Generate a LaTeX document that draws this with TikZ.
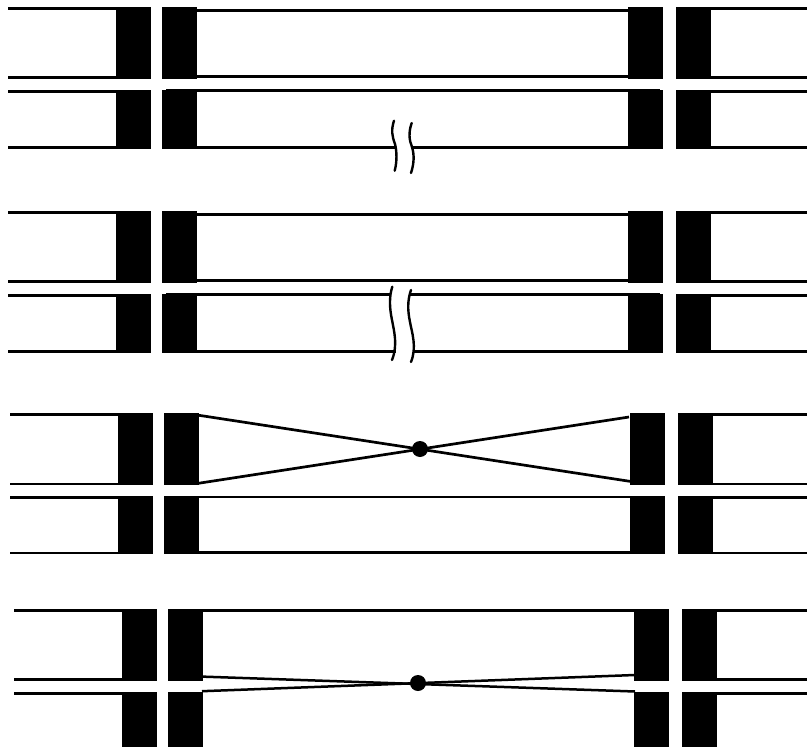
\documentclass[tikz,border=0pt]{standalone}
\tikzset{
  wire/.style={draw=black,line width=2.7pt,line cap=butt},
  thin wire/.style={draw=black,line width=2.5pt,line cap=butt},
  block/.style={fill=black,draw=none},
  breakmark/.style={draw=black,line width=2.4pt,line cap=round},
  joint/.style={circle,fill=black,draw=none,minimum size=16pt,inner sep=0pt}
}
\newcommand{\blockrow}[3]{%
  \fill[block] (116+#1,#2) rectangle (150.5+#1,#3);
  \fill[block] (162+#1,#2) rectangle (196.5+#1,#3);
  \fill[block] (628+#1,#2) rectangle (662.5+#1,#3);
  \fill[block] (676+#1,#2) rectangle (710.5+#1,#3);
}
\newcommand{\outerline}[3]{%
  \draw[wire] (#2,#3) -- (118+#1,#3);
  \draw[wire] (709+#1,#3) -- (807,#3);
}
\begin{document}
\begin{tikzpicture}[x=1pt,y=-1pt]
\useasboundingbox (0,0) rectangle (807,747);
% Panel 1
\blockrow{0}{7}{78.5}
\blockrow{0}{90}{148.5}
\outerline{0}{8}{8.6}
\outerline{0}{8}{77.3}
\outerline{0}{8}{91.2}
\outerline{0}{8}{147.2}
\draw[thin wire] (195,10.4) -- (630,10.4);
\draw[thin wire] (195,76.4) -- (630,76.4);
\draw[thin wire] (166,90.6) -- (660,90.6);
\draw[wire] (195,147.2) -- (396,147.2);
\draw[wire] (413,147.2) -- (630,147.2);
\draw[breakmark] (394,120.7) .. controls (391,130) and (392,136) .. (395,144) .. controls (397,152) and (397,162) .. (394.7,170.7);
\draw[breakmark] (411.7,123) .. controls (408.5,132) and (409,140) .. (412,147) .. controls (414.5,155) and (414,164) .. (411,173);
% Panel 2
\blockrow{0}{211}{282.5}
\blockrow{0}{294}{352.5}
\outerline{0}{8}{212.6}
\outerline{0}{8}{281.3}
\outerline{0}{8}{295.2}
\outerline{0}{8}{351.2}
\draw[thin wire] (195,214.4) -- (630,214.4);
\draw[thin wire] (195,280.4) -- (630,280.4);
\draw[wire] (166,294.4) -- (391,294.4);
\draw[wire] (409,294.4) -- (660,294.4);
\draw[wire] (195,351.2) -- (396,351.2);
\draw[wire] (414,351.2) -- (630,351.2);
\draw[breakmark] (392.3,286.7) .. controls (389,297) and (389.5,308) .. (392,320) .. controls (394,331) and (398,345) .. (392,360);
\draw[breakmark] (411,290) .. controls (407.5,300) and (407.5,310) .. (410,322) .. controls (412,333) and (417,347) .. (411,362);
% Panel 3
\blockrow{2}{412.7}{485}
\blockrow{2}{496.3}{554.3}
\outerline{2}{10}{414.2}
\outerline{2}{10}{484}
\outerline{2}{10}{497.8}
\outerline{2}{10}{553}
\draw[wire] (197,415) -- (631,481.5);
\draw[wire] (197,483.5) -- (629,417);
\draw[thin wire] (168,496.8) -- (662,496.8);
\draw[wire] (197,552.8) -- (632,552.8);
\node[joint] (j1) at (420,449) {};
% Panel 4
\blockrow{6}{609}{681}
\blockrow{6}{692.3}{747}
\outerline{6}{14}{610.5}
\outerline{6}{14}{679.6}
\outerline{6}{14}{693.8}
\draw[wire] (201,610.5) -- (636,610.5);
\draw[thin wire] (202,676.6) -- (635,691.5);
\draw[thin wire] (202,691.2) -- (635,675);
\node[joint] (j2) at (418,683) {};
\end{tikzpicture}
\end{document}
